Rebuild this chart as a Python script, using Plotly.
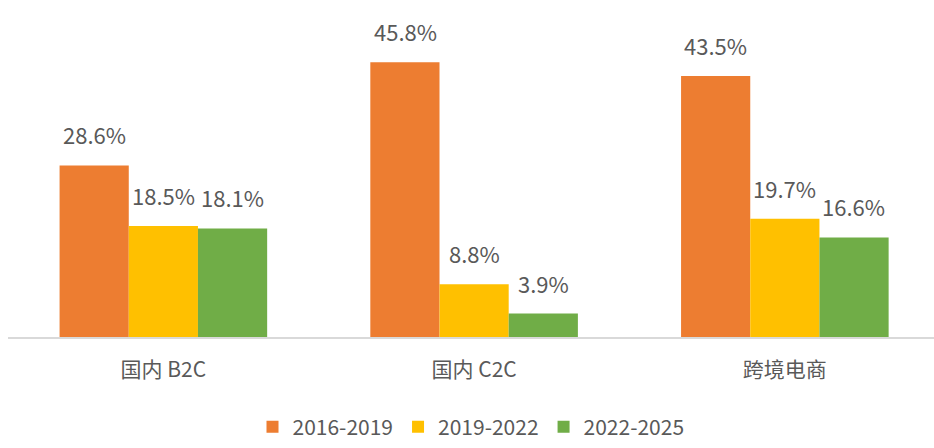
import plotly.graph_objects as go

categories = ["国内 B2C", "国内 C2C", "跨境电商"]
series_names = ["2016-2019", "2019-2022", "2022-2025"]
values_2016_2019 = [28.6, 45.8, 43.5]
values_2019_2022 = [18.5, 8.8, 19.7]
values_2022_2025 = [18.1, 3.9, 16.6]
colors = ["#ED7D31", "#FFC000", "#70AD47"]

series_values = [values_2016_2019, values_2019_2022, values_2022_2025]

FONT = "Noto Sans CJK SC, Noto Sans, sans-serif"
TEXT_COLOR = "#595959"

fig = go.Figure()
for name, vals, col in zip(series_names, series_values, colors):
    fig.add_trace(go.Bar(
        x=categories, y=vals, name=name,
        marker=dict(color=col, line=dict(width=0)),
        hoverinfo="skip",
    ))

# value labels above bars
bar_px = 69
shifts = [-bar_px, 0, bar_px]
for vals, sh in zip(series_values, shifts):
    for cat, v in zip(categories, vals):
        fig.add_annotation(
            x=cat, y=v, text=f"{v:.1f}%", showarrow=False,
            xref="x", yref="y", xshift=sh, yshift=31,
            yanchor="middle", xanchor="center",
            font=dict(family=FONT, size=22, color=TEXT_COLOR),
        )

fig.update_layout(
    width=934, height=448,
    margin=dict(l=8, r=0, t=37, b=107),
    paper_bgcolor="white", plot_bgcolor="white",
    barmode="group", bargap=0.332, bargroupgap=0,
    font=dict(family=FONT, color=TEXT_COLOR),
    legend=dict(
        orientation="h", x=0.5, xanchor="center", y=-0.30, yanchor="middle",
        font=dict(family=FONT, size=21, color=TEXT_COLOR),
        itemclick=False, itemdoubleclick=False, tracegroupgap=0,
        itemwidth=30,
    ),
    showlegend=True,
)
fig.update_xaxes(
    range=[-0.5, 2.48], showline=True, linecolor="#d9d9d9", linewidth=1.5,
    showgrid=False, ticks="", ticklabelstandoff=13,
    tickfont=dict(family=FONT, size=21, color=TEXT_COLOR),
)
fig.update_yaxes(
    range=[0, 50], visible=False, showgrid=False, zeroline=False,
)

fig.write_html("out.html")
